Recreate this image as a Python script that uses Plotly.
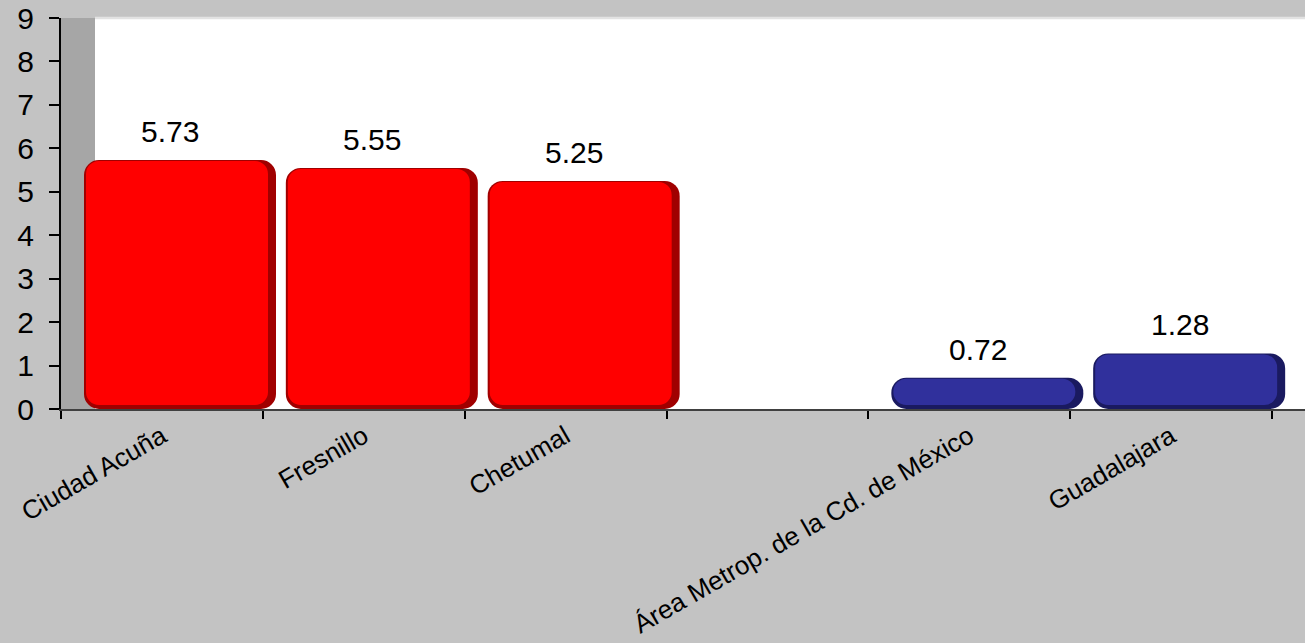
import plotly.graph_objects as go

# ---------------- data ----------------
categories = ["Ciudad Acuña", "Fresnillo", "Chetumal", " ",
              "Área Metrop. de la Cd. de México", "Guadalajara"]
cities = ["Ciudad Acuña", "Fresnillo", "Chetumal",
          "Área Metrop. de la Cd. de México", "Guadalajara"]
values = [5.73, 5.55, 5.25, 0.72, 1.28]
groups = ["red", "red", "red", "blue", "blue"]
y_ticks = [0, 1, 2, 3, 4, 5, 6, 7, 8, 9]

# ---------------- style ----------------
W, H = 1305, 643
ML, MT, MB, MR = 61, 18, 234, 0
PLOT_W = W - ML - MR
PLOT_H = H - MT - MB
CAT_PX = 1211 / 6.0            # pixels per category slot
EXTRA_RIGHT = (PLOT_W - 1211) / CAT_PX
X_RANGE = [-0.5, 5.5 + EXTRA_RIGHT]
Y_MAX = 9
PX_PER_UNIT = PLOT_H / Y_MAX
DEPTH_PX = 34                  # 3D side wall depth

FONT = "Liberation Sans, Arial, sans-serif"
PAPER = "#c3c3c3"
WALL = "#a6a6a6"
BRIGHT = {"red": "#ff0000", "blue": "#30309c"}
DARK = {"red": "#a00000", "blue": "#1a1a60"}

BAR_OFFSET = 23 / CAT_PX - 0.5
BAR_WIDTH = 192 / CAT_PX

fig = go.Figure()

# dark shading layer (explicit base -> all four corners rounded)
fig.add_trace(go.Bar(
    x=cities, y=values, base=[0] * len(values),
    offset=BAR_OFFSET, width=BAR_WIDTH,
    marker=dict(color=[DARK[g] for g in groups], line=dict(width=0),
                cornerradius=15),
    hoverinfo="skip", showlegend=False,
))

# bright face, inset a little on the right and bottom
inset = 4 / PX_PER_UNIT
fig.add_trace(go.Bar(
    x=cities, y=[v - inset - 1 / PX_PER_UNIT for v in values],
    base=[inset] * len(values),
    offset=BAR_OFFSET + 2 / CAT_PX, width=BAR_WIDTH - 10 / CAT_PX,
    marker=dict(color=[BRIGHT[g] for g in groups], line=dict(width=0),
                cornerradius=13),
    hoverinfo="skip", showlegend=False,
))

annotations = []
for c, v in zip(cities, values):
    annotations.append(dict(
        x=c, y=v, text=f"{v:.2f}", showarrow=False,
        xanchor="center", yanchor="bottom", xshift=8.5, yshift=10,
        font=dict(family=FONT, size=30, color="black"),
    ))

shapes = [
    dict(type="rect", xref="x domain", yref="y domain",
         x0=0, x1=DEPTH_PX / PLOT_W, y0=0, y1=1,
         fillcolor=WALL, line=dict(width=0), layer="below"),
    dict(type="line", xref="x domain", yref="y domain",
         x0=DEPTH_PX / PLOT_W, x1=1, y0=1, y1=1,
         line=dict(color="#e2e2e2", width=2.5), layer="below"),
]

fig.update_layout(
    width=W, height=H,
    margin=dict(l=ML, r=MR, t=MT, b=MB, pad=0, autoexpand=False),
    paper_bgcolor=PAPER, plot_bgcolor="white",
    barmode="overlay",
    showlegend=False,
    font=dict(family=FONT, color="black"),
    annotations=annotations,
    shapes=shapes,
    xaxis=dict(
        type="category", categoryorder="array", categoryarray=categories,
        tickmode="array", tickvals=categories, ticktext=categories,
        range=X_RANGE, tickson="boundaries", automargin=False,
        ticks="outside", ticklen=8, tickwidth=2, tickcolor="black",
        showline=True, linecolor="#404040", linewidth=2,
        showgrid=False, zeroline=False, tickangle=-30,
        tickfont=dict(family=FONT, size=26, color="black"),
        fixedrange=True,
    ),
    yaxis=dict(
        range=[0, Y_MAX], tickmode="array", tickvals=y_ticks,
        automargin=False,
        ticks="outside", ticklen=10, tickwidth=2, tickcolor="black",
        showline=True, linecolor="black", linewidth=2,
        showgrid=False, zeroline=False,
        tickfont=dict(family=FONT, size=30, color="black"),
        ticklabelstandoff=9,
        fixedrange=True,
    ),
)

fig.write_html(
    "out.html",
    config={"displayModeBar": False},
    post_script="document.body.style.margin='0';document.body.style.overflow='hidden';",
)
